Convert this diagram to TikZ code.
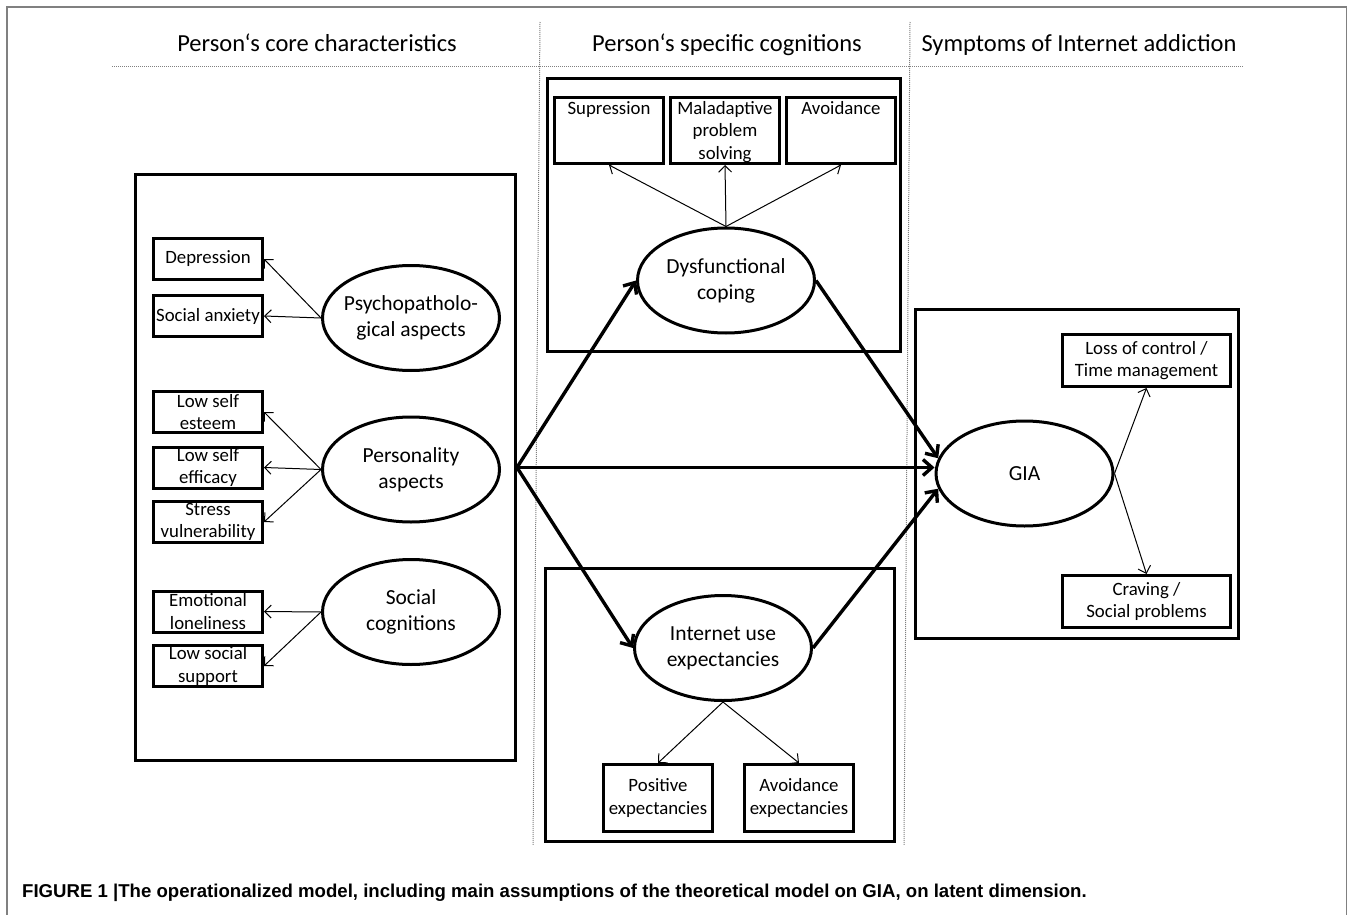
\documentclass[tikz,border=0pt]{standalone}
\usepackage{fontspec}
\setmainfont{Carlito}
\newfontfamily\capfont{Liberation Sans}
\usetikzlibrary{shapes.geometric,arrows.meta}

\begin{document}
\begin{tikzpicture}[x=1pt,y=-1pt,
  head/.style={anchor=base,inner sep=0pt,font=\fontsize{24.5}{29}\selectfont},
  block/.style={draw,line width=3pt,inner sep=0pt},
  item/.style={draw,line width=3pt,minimum width=109pt,minimum height=41pt,inner sep=0pt,align=center,font=\fontsize{18.8}{22.5}\selectfont},
  topitem/.style={item,minimum height=66pt},
  latent/.style={draw,ellipse,line width=3pt,minimum width=177pt,minimum height=105pt,inner xsep=-25pt,inner ysep=0pt,align=center,font=\fontsize{21.5}{26}\selectfont},
  load/.style={draw,line width=1pt,-{Straight Barb[length=6.5pt,width=13pt]}},
  effect/.style={draw,line width=3.4pt,-{Straight Barb[length=9pt,width=16pt]}},
  guide/.style={draw=gray,densely dotted,line width=1pt},
  every label/.style={align=center,inner sep=5pt,font=\fontsize{18.8}{22.5}\selectfont}]
\useasboundingbox (0,0) rectangle (1349,915);

\path[draw=gray,line width=1.8pt] (7,915) -- (7,7) -- (1346.5,7) -- (1346.5,915);

\node[head] (h1) at (317,52) {Person‘s core characteristics};
\node[head] (h2) at (727,52) {Person‘s specific cognitions};
\node[head] (h3) at (1079,52) {Symptoms of Internet addiction};

\path[guide] (112,67) -- (1243,67);
\path[guide] (540,22) -- (533,845);
\path[guide] (910,22) -- (904,845);

\node[block,minimum width=380pt,minimum height=586pt] (core) at (325.5,467.5) {};
\node[block,minimum width=353pt,minimum height=273pt] (cope) at (724,215) {};
\node[block,minimum width=349pt,minimum height=273pt] (expc) at (720,705) {};
\node[block,minimum width=323pt,minimum height=329pt] (symp) at (1077,474) {};

\node[item] (dep) at (208,259) {Depression};
\node[item] (anx) at (208,316) {Social anxiety};
\node[item] (est) at (208,412) {Low self\\esteem};
\node[item] (eff) at (208,467.5) {Low self\\efficacy};
\node[item] (str) at (208,522) {Stress\\vulnerability};
\node[item] (emo) at (208,611.5) {Emotional\\loneliness};
\node[item] (sup) at (208,666) {Low social\\support};

\node[latent] (psy) at (411,318) {Psychopatholo-\\gical aspects};
\node[latent] (per) at (411,469.5) {Personality\\aspects};
\node[latent] (soc) at (411,612) {Social\\cognitions};

\node[topitem,label={[anchor=north]north:Supression}] (supr) at (609,130.5) {};
\node[topitem,label={[anchor=north]north:Maladaptive\\problem\\solving}] (mal) at (725,130.5) {};
\node[topitem,label={[anchor=north]north:Avoidance}] (avo) at (841,130.5) {};
\node[latent] (dys) at (726,280.5) {Dysfunctional\\coping};

\node[latent] (iue) at (723,648) {Internet use\\expectancies};
\node[topitem,minimum height=67pt] (pos) at (658,798) {Positive\\expectancies};
\node[topitem,minimum height=67pt] (ave) at (799,798) {Avoidance\\expectancies};

\node[latent] (gia) at (1024.5,473.5) {GIA};
\node[item,minimum width=168pt,minimum height=52pt] (loss) at (1146.5,360.5) {Loss of control /\\Time management};
\node[item,minimum width=168pt,minimum height=52pt] (crav) at (1146.5,601.5) {Craving /\\Social problems};

\path[load] (psy.west) -- (dep.east);
\path[load] (psy.west) -- (anx.east);
\path[load] (per.west) -- (est.east);
\path[load] (per.west) -- (eff.east);
\path[load] (per.west) -- (str.east);
\path[load] (soc.west) -- (emo.east);
\path[load] (soc.west) -- (sup.east);
\path[load] (dys.north) -- (supr.south);
\path[load] (dys.north) -- (mal.south);
\path[load] (dys.north) -- (avo.south);
\path[load] (iue.south) -- (pos.north);
\path[load] (iue.south) -- (ave.north);
\path[load] (gia.east) -- (loss.south);
\path[load] (gia.east) -- (crav.north);

\path[effect] (core.east) -- (dys.west);
\path[effect] (core.east) -- (iue.west);
\path[effect] (core.east) -- (core.east -| gia.west);
\path[effect] (dys.east) -- (gia.170);
\path[effect] (iue.east) -- (gia.190);

\node[anchor=base west,inner sep=0pt,font=\capfont\bfseries\fontsize{18.6}{22}\selectfont] (cap) at (22,897) {FIGURE 1 |The operationalized model, including main assumptions of the theoretical model on GIA, on latent dimension.};
\end{tikzpicture}
\end{document}
